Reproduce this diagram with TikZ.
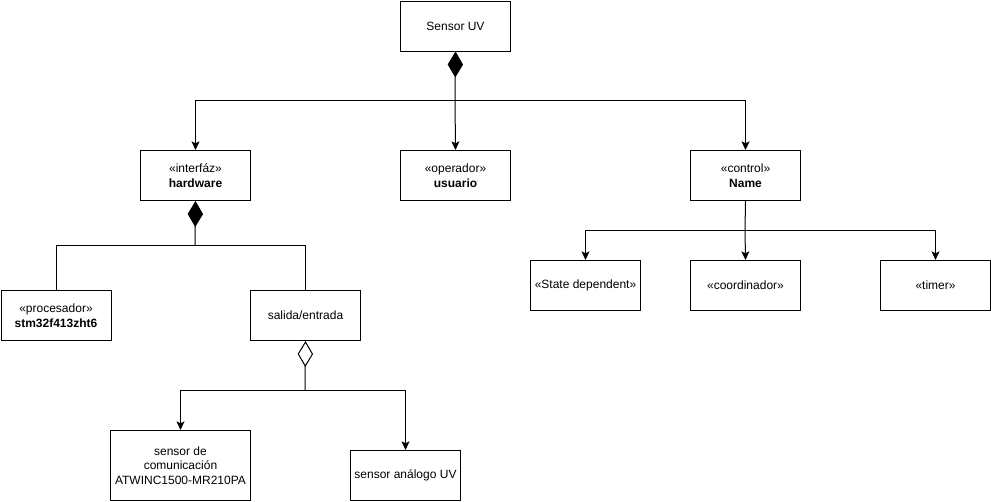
\documentclass[tikz,border=0pt]{standalone}
\usepackage{fontspec}
\setmainfont{Liberation Sans}
\usetikzlibrary{arrows.meta}
\begin{document}
\begin{tikzpicture}[x=0.75pt,y=-0.75pt,line width=0.75pt,
  box/.style={draw, anchor=north west, align=center, inner sep=0pt,
    minimum width=82.5pt, minimum height=37.5pt,
    font=\fontsize{9}{11}\selectfont},
  arr/.style={-{Stealth[length=6.5pt,width=6pt,inset=1.5pt]}},
  comp/.style={{Diamond[length=19.5pt,width=11.5pt]}-},
  aggr/.style={{Diamond[open,length=19.5pt,width=11.5pt]}-}]
  \useasboundingbox (0,0) rectangle (991,501);

  % classes
  \node[box] (sensor) at (400,0.5) {Sensor UV};
  \node[box] (hw) at (140,150) {«interfáz»\\\textbf{hardware}};
  \node[box] (user) at (400,150) {«operador»\\\textbf{usuario}};
  \node[box] (name) at (690,150) {«control»\\\textbf{Name}};
  \node[box] (proc) at (0.5,290) {«procesador»\\\textbf{stm32f413zht6}};
  \node[box] (io) at (250,290) {salida/entrada};
  \node[box] (state) at (530,260) {«State dependent»};
  \node[box] (coord) at (690,260) {«coordinador»};
  \node[box] (timer) at (880,260) {«timer»};
  \node[box, minimum width=105pt, minimum height=52.5pt] (comm) at (110,430)
    {sensor de\\comunicación\\ATWINC1500-MR210PA};
  \node[box] (analog) at (350,450) {sensor análogo UV};

  % junction points
  \coordinate (j1) at (455,100);
  \coordinate (j2) at (195,245);
  \coordinate (j3) at (745,230);
  \coordinate (j4) at (305,390);

  % Sensor UV composition
  \draw[comp] (sensor.south) -- (j1);
  \draw[arr] (j1) -| (hw.north);
  \draw[arr] (j1) -- (user.north);
  \draw[arr] (j1) -| (name.north);

  % hardware composition
  \draw[comp] (hw.south) -- (j2);
  \draw (j2) -| (proc.north);
  \draw (j2) -| (io.north);

  % control branches
  \draw (name.south) -- (j3);
  \draw[arr] (j3) -| (state.north);
  \draw[arr] (j3) -- (coord.north);
  \draw[arr] (j3) -| (timer.north);

  % salida/entrada aggregation
  \draw[aggr] (io.south) -- (j4);
  \draw[arr] (j4) -| (comm.north);
  \draw[arr] (j4) -| (analog.north);
\end{tikzpicture}
\end{document}
